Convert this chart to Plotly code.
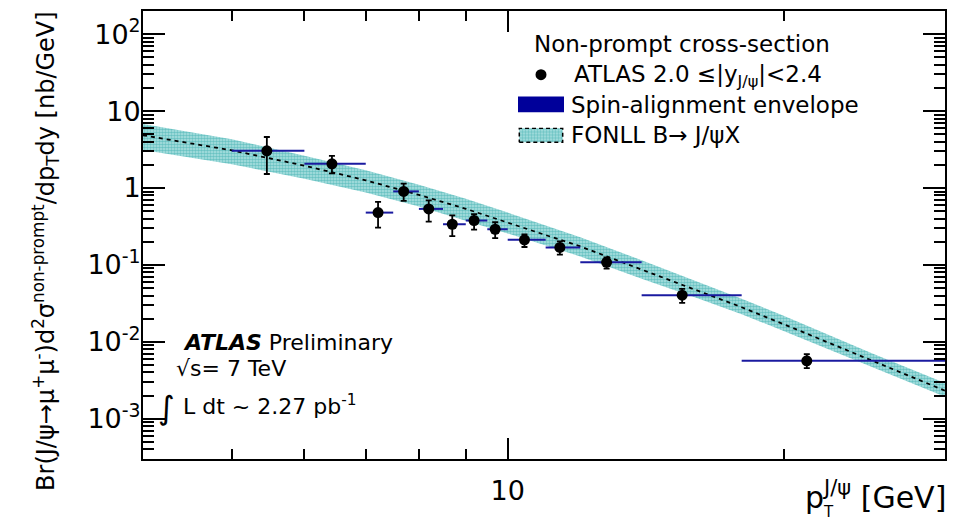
import numpy as np
import plotly.graph_objects as go

# ---------------- data ----------------
pt = [5.46, 6.43, 7.22, 7.70, 8.20, 8.70, 9.19, 9.69, 10.43, 11.4, 12.82, 15.5, 21.2]
bin_lo = [5, 6, 7, 7.5, 8, 8.5, 9, 9.5, 10, 11, 12, 14, 18]
bin_hi = [6, 7, 7.5, 8, 8.5, 9, 9.5, 10, 11, 12, 14, 18, 30]
xsec = [3.04, 2.06, 0.479, 0.904, 0.535, 0.338, 0.378, 0.291, 0.212, 0.169, 0.108, 0.0404, 0.00566]
xsec_hi = [4.6, 2.62, 0.66, 1.14, 0.69, 0.44, 0.456, 0.359, 0.25, 0.202, 0.125, 0.0488, 0.00692]
xsec_lo = [1.52, 1.55, 0.306, 0.68, 0.366, 0.237, 0.288, 0.223, 0.171, 0.136, 0.0895, 0.0321, 0.00455]

fonll_pt = [4, 5, 6, 7, 8, 9, 10, 12, 14, 16, 18, 20, 25, 30]
fonll_c = [4.85, 3.09, 1.95, 1.26, 0.813, 0.537, 0.355, 0.174, 0.087, 0.0479, 0.0282, 0.0170, 0.00562, 0.00232]
fonll_up = [6.80, 4.30, 2.63, 1.70, 1.10, 0.724, 0.479, 0.229, 0.115, 0.0631, 0.0363, 0.0219, 0.00708, 0.00292]
fonll_dn = [3.13, 2.04, 1.32, 0.871, 0.575, 0.380, 0.257, 0.129, 0.0661, 0.0380, 0.0229, 0.0138, 0.00468, 0.00193]

y_major = [1e-3, 1e-2, 1e-1, 1, 10, 100]
y_major_text = ["10<sup>-3</sup>", "10<sup>-2</sup>", "10<sup>-1</sup>", "1", "10", "10<sup>2</sup>"]
x_major = [10]
x_major_text = ["10"]
x_minor = [5, 6, 7, 8, 9, 20]
y_minor = [m * 10.0 ** e for e in range(-4, 3) for m in range(2, 10) if 3e-4 <= m * 10.0 ** e <= 200]

FONT = "DejaVu Sans"
TEAL = "#1f9f9f"
BAND_BG = "rgba(165,224,224,0.85)"
NAVY = "#00009a"
LINE_BLUE = "#1a1aa0"

fig = go.Figure()

# FONLL band
fig.add_trace(go.Scatter(x=fonll_pt, y=fonll_dn, mode="lines", line=dict(width=0),
                         showlegend=False, hoverinfo="skip"))
fig.add_trace(go.Scatter(x=fonll_pt, y=fonll_up, mode="lines", line=dict(width=0),
                         fill="tonexty", fillcolor=BAND_BG,
                         fillpattern=dict(shape=".", fgcolor=TEAL, bgcolor=BAND_BG,
                                          size=3, solidity=0.6),
                         showlegend=False, hoverinfo="skip"))
fig.add_trace(go.Scatter(x=fonll_pt, y=fonll_c, mode="lines",
                         line=dict(color="black", width=1.8, dash="4px,4px"),
                         showlegend=False, hoverinfo="skip"))

# data points
ex_plus = [h - p for h, p in zip(bin_hi, pt)]
ex_minus = [p - l for p, l in zip(pt, bin_lo)]
ey_plus = [h - v for h, v in zip(xsec_hi, xsec)]
ey_minus = [v - l for v, l in zip(xsec, xsec_lo)]
fig.add_trace(go.Scatter(
    x=pt, y=xsec, mode="markers",
    marker=dict(color="black", size=11, symbol="circle"),
    error_x=dict(type="data", array=ex_plus, arrayminus=ex_minus, color=LINE_BLUE,
                 thickness=2, width=0, symmetric=False),
    error_y=dict(type="data", array=ey_plus, arrayminus=ey_minus, color="black",
                 thickness=1.8, width=3, symmetric=False),
    showlegend=False, hoverinfo="skip"))

# invisible trace on overlay axes carrying the minor ticks
fig.add_trace(go.Scatter(x=[10], y=[1], xaxis="x2", yaxis="y2", mode="markers",
                         marker=dict(opacity=0), showlegend=False, hoverinfo="skip"))

# legend patch for FONLL (pattern + dashed border) on a small helper axis
fig.add_trace(go.Scatter(x=[0, 1, 1, 0, 0], y=[0, 0, 1, 1, 0], xaxis="x3", yaxis="y3",
                         mode="lines", fill="toself", fillcolor=BAND_BG,
                         fillpattern=dict(shape=".", fgcolor=TEAL, bgcolor=BAND_BG,
                                          size=3, solidity=0.6),
                         line=dict(color="black", width=1.5, dash="4px,3px"),
                         showlegend=False, hoverinfo="skip"))

# pixel helpers for the plot frame
L, R, T, B = 143, 945, 9, 459
W, H = R - L, B - T
def px(x):
    return (x - L) / W
def py(y):
    return (B - y) / H

common_ax = dict(showgrid=False, zeroline=False, ticks="inside", tickcolor="black",
                 tickwidth=1.5)

fig.update_layout(
    width=963, height=524,
    margin=dict(l=L, r=963 - R, t=T, b=524 - B),
    paper_bgcolor="white", plot_bgcolor="white",
    font=dict(family=FONT, color="black"),
    showlegend=False,
    xaxis=dict(type="log", range=[np.log10(4), np.log10(30)], tickmode="array",
               tickvals=x_major, ticktext=x_major_text, ticklen=21, mirror="allticks",
               showline=True, linewidth=2, linecolor="black",
               tickfont=dict(family=FONT, size=27), ticklabelstandoff=7, **common_ax),
    xaxis2=dict(type="log", range=[np.log10(4), np.log10(30)], overlaying="x", anchor="y2",
                tickmode="array", tickvals=x_minor, ticklen=10, mirror="allticks",
                showticklabels=False, showline=False, **common_ax),
    yaxis=dict(type="log", range=[np.log10(3e-4), np.log10(200)], tickmode="array",
               tickvals=y_major, ticktext=y_major_text, ticklen=22, mirror="allticks",
               showline=True, linewidth=2, linecolor="black",
               tickfont=dict(family=FONT, size=27), ticklabelstandoff=-5, **common_ax),
    yaxis2=dict(type="log", range=[np.log10(3e-4), np.log10(200)], overlaying="y", anchor="x2",
                tickmode="array", tickvals=y_minor, ticklen=11, mirror="allticks",
                showticklabels=False, showline=False, **common_ax),
    xaxis3=dict(domain=[px(518), px(564)], range=[-0.03, 1.03], visible=False, anchor="y3"),
    yaxis3=dict(domain=[py(141.7), py(126)], range=[-0.06, 1.06], visible=False, anchor="x3"),
)

# legend shapes
fig.add_shape(type="circle", xref="paper", yref="paper",
              x0=px(535.5), x1=px(546.5), y0=py(78.5), y1=py(67.5),
              fillcolor="black", line=dict(color="black", width=0))
fig.add_shape(type="rect", xref="paper", yref="paper",
              x0=px(518), x1=px(564), y0=py(110.7), y1=py(95),
              fillcolor=NAVY, line=dict(color=NAVY, width=0))

ann = []
def text(s, x, y, size, xanchor="left", yanchor="middle", **kw):
    ann.append(dict(text=s, x=x, y=y, xref="paper", yref="paper", showarrow=False,
                    xanchor=xanchor, yanchor=yanchor, font=dict(family=FONT, size=size, color="black"), **kw))

text("Non-prompt cross-section", px(681.5), py(42), 23, xanchor="center")
text("ATLAS 2.0 ≤|y<sub>J/ψ</sub>|&lt;2.4", px(572), py(74), 23)
text("Spin-alignment envelope", px(569), py(103), 23)
text("FONLL B→ J/ψX", px(569), py(134), 23)

text("<b><i>ATLAS</i></b> Preliminary", px(181), py(342), 22)
text("√s= 7 TeV", px(174), py(368), 22)
text("∫", px(166), py(408), 32, xanchor="center")
text("L dt ~ 2.27 pb<sup>-1</sup>", px(181), py(405), 22)

text("Br(J/ψ→μ<sup>+</sup>μ<sup>-</sup>)d<sup>2</sup>σ<sup>non-prompt</sup>/dp<sub>T</sub>dy [nb/GeV]",
     px(46), py(250), 24, xanchor="center", textangle=-90)
text("p<sup>J/ψ</sup> [GeV]", px(948), py(496), 30, xanchor="right")
text("T", px(828), py(512), 15, xanchor="center")

fig.update_layout(annotations=ann)

fig.write_html("out.html")
